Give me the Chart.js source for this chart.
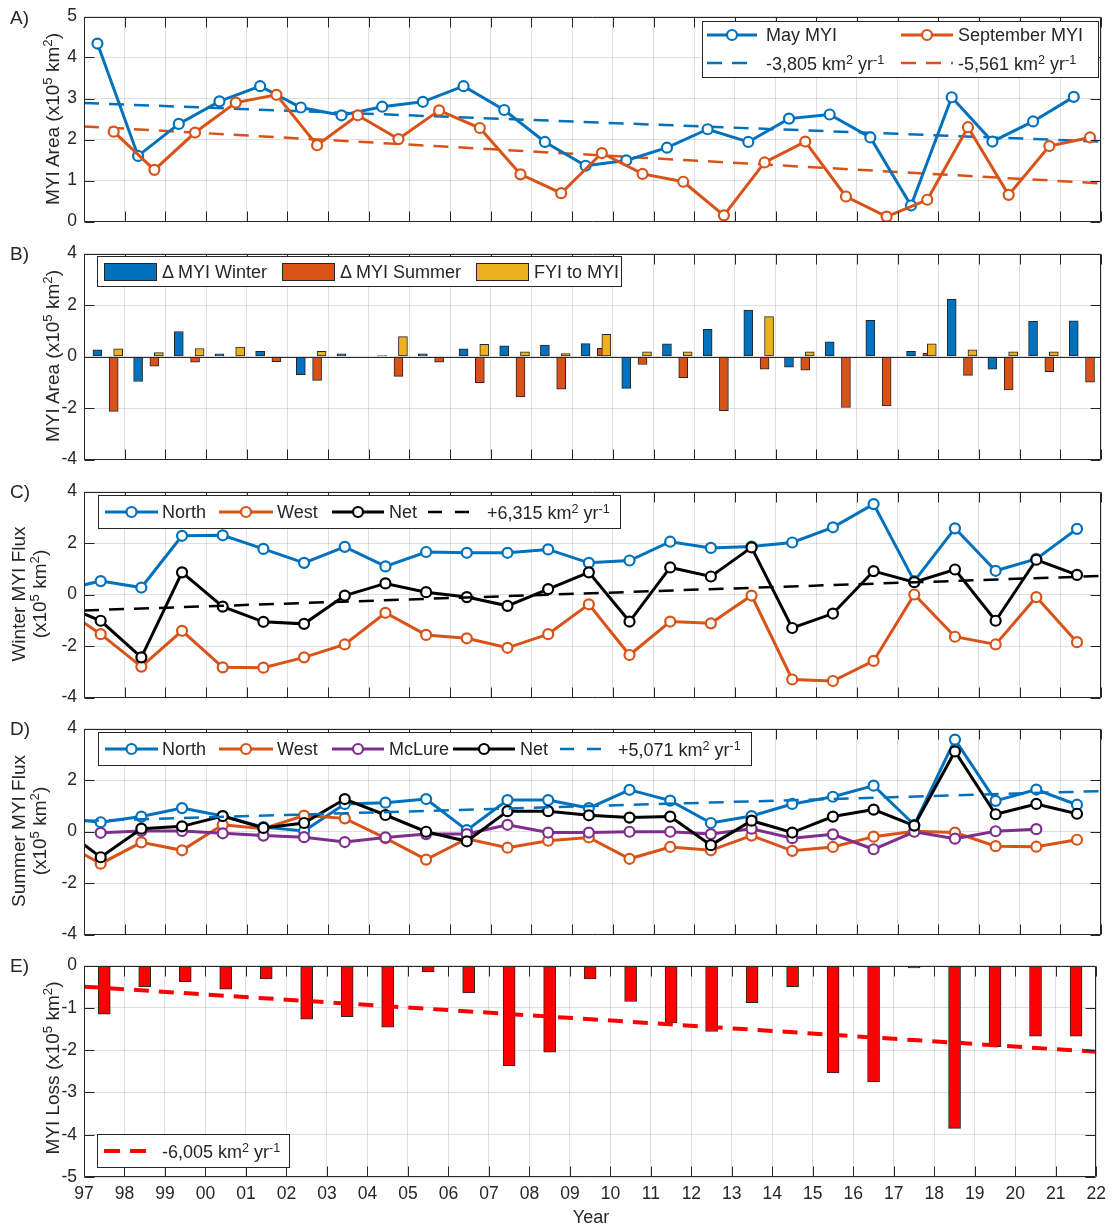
<!DOCTYPE html>
<html>
<head>
<meta charset="utf-8">
<title>MYI area, flux and loss</title>
<script src="https://cdn.jsdelivr.net/npm/chart.js@4.4.1/dist/chart.umd.min.js"></script>
<style>
  html, body { margin:0; padding:0; background:#ffffff; }
  #wrap { position:relative; width:1113px; height:1228px; overflow:hidden; font-family:"Liberation Sans", Arial, Helvetica, sans-serif; color:#262626; }
  #wrap canvas { position:absolute; left:0; }
  .t { position:absolute; white-space:nowrap; line-height:1; transform:translateY(-50%); z-index:5; font-size:18px; }
  .lg { position:absolute; background:#fff; border:1px solid #262626; box-sizing:border-box; z-index:3; }
  .yt { position:absolute; white-space:nowrap; font-size:19px; line-height:21px; text-align:center; transform:translate(-50%,-50%) rotate(-90deg); z-index:5; }
  .pl { position:absolute; white-space:nowrap; font-size:19px; line-height:1; transform:translateY(-50%); z-index:5; }
  .xl { position:absolute; white-space:nowrap; font-size:18px; line-height:1; transform:translate(-50%,-50%); z-index:5; }
  sup { font-size:70%; line-height:0; position:relative; top:-0.5em; vertical-align:baseline; }
  #keys { position:absolute; left:0; top:0; z-index:4; pointer-events:none; }
</style>
</head>
<body>
<div id="wrap">
  <!-- panel labels -->
  <div class="pl" style="left:10px;top:17px;">A)</div>
  <div class="pl" style="left:10px;top:253px;">B)</div>
  <div class="pl" style="left:10px;top:491px;">C)</div>
  <div class="pl" style="left:10px;top:728px;">D)</div>
  <div class="pl" style="left:10px;top:965px;">E)</div>

  <!-- y axis titles -->
  <div class="yt" style="left:52px;top:119px;">MYI Area (x10<sup>5</sup> km<sup>2</sup>)</div>
  <div class="yt" style="left:52px;top:356px;">MYI Area (x10<sup>5</sup> km<sup>2</sup>)</div>
  <div class="yt" style="left:29px;top:594px;">Winter MYI Flux<br>(x10<sup>5</sup> km<sup>2</sup>)</div>
  <div class="yt" style="left:29px;top:831px;">Summer MYI Flux<br>(x10<sup>5</sup> km<sup>2</sup>)</div>
  <div class="yt" style="left:52px;top:1068px;">MYI Loss (x10<sup>5</sup> km<sup>2</sup>)</div>
  <div class="xl" style="left:591px;top:1217px;">Year</div>

  <!-- legend boxes -->
  <div class="lg" style="left:702px;top:21px;width:397px;height:57px;"></div>
  <div class="lg" style="left:97px;top:256px;width:525px;height:31px;"></div>
  <div class="lg" style="left:98px;top:495px;width:523px;height:34px;"></div>
  <div class="lg" style="left:98px;top:732px;width:654px;height:34px;"></div>
  <div class="lg" style="left:97px;top:1134px;width:193px;height:34px;"></div>

  <!-- legend keys -->
  <svg id="keys" width="1113" height="1228" xmlns="http://www.w3.org/2000/svg">
    <!-- A -->
    <line x1="707" y1="35" x2="757" y2="35" stroke="#0072BD" stroke-width="3"/>
    <circle cx="732" cy="35" r="5" fill="#fff" stroke="#0072BD" stroke-width="2.2"/>
    <line x1="901" y1="35" x2="953" y2="35" stroke="#D95319" stroke-width="3"/>
    <circle cx="927" cy="35" r="5" fill="#fff" stroke="#D95319" stroke-width="2.2"/>
    <line x1="707" y1="63" x2="757" y2="63" stroke="#0072BD" stroke-width="2.5" stroke-dasharray="15 10"/>
    <line x1="901" y1="63" x2="953" y2="63" stroke="#D95319" stroke-width="2.5" stroke-dasharray="15 10"/>
    <!-- B -->
    <rect x="104.5" y="263.5" width="52" height="17" fill="#0072BD" stroke="#262626" stroke-width="1"/>
    <rect x="282.5" y="263.5" width="52" height="17" fill="#D95319" stroke="#262626" stroke-width="1"/>
    <rect x="476.5" y="263.5" width="52" height="17" fill="#EDB120" stroke="#262626" stroke-width="1"/>
    <!-- C -->
    <line x1="105" y1="512" x2="158" y2="512" stroke="#0072BD" stroke-width="3"/>
    <circle cx="131.5" cy="512" r="5" fill="#fff" stroke="#0072BD" stroke-width="2.2"/>
    <line x1="219" y1="512" x2="273" y2="512" stroke="#D95319" stroke-width="3"/>
    <circle cx="246" cy="512" r="5" fill="#fff" stroke="#D95319" stroke-width="2.2"/>
    <line x1="332" y1="512" x2="384" y2="512" stroke="#000" stroke-width="3"/>
    <circle cx="358" cy="512" r="5" fill="#fff" stroke="#000" stroke-width="2.2"/>
    <line x1="428" y1="512" x2="470" y2="512" stroke="#000" stroke-width="2.5" stroke-dasharray="14 13"/>
    <!-- D -->
    <line x1="105" y1="749" x2="158" y2="749" stroke="#0072BD" stroke-width="3"/>
    <circle cx="131.5" cy="749" r="5" fill="#fff" stroke="#0072BD" stroke-width="2.2"/>
    <line x1="219" y1="749" x2="273" y2="749" stroke="#D95319" stroke-width="3"/>
    <circle cx="246" cy="749" r="5" fill="#fff" stroke="#D95319" stroke-width="2.2"/>
    <line x1="332" y1="749" x2="384" y2="749" stroke="#7E2F8E" stroke-width="3"/>
    <circle cx="358" cy="749" r="5" fill="#fff" stroke="#7E2F8E" stroke-width="2.2"/>
    <line x1="453" y1="749" x2="515" y2="749" stroke="#000" stroke-width="3"/>
    <circle cx="484" cy="749" r="5" fill="#fff" stroke="#000" stroke-width="2.2"/>
    <line x1="560" y1="749" x2="603" y2="749" stroke="#0072BD" stroke-width="2.5" stroke-dasharray="14 13"/>
    <!-- E -->
    <line x1="104" y1="1151" x2="146" y2="1151" stroke="#FF0000" stroke-width="4" stroke-dasharray="16 10"/>
  </svg>

  <!-- legend texts -->
  <div class="t" style="left:766px;top:35px;">May MYI</div>
  <div class="t" style="left:958px;top:35px;">September MYI</div>
  <div class="t" style="left:766px;top:64px;">-3,805 km<sup>2</sup> yr<sup>-1</sup></div>
  <div class="t" style="left:958px;top:64px;">-5,561 km<sup>2</sup> yr<sup>-1</sup></div>

  <div class="t" style="left:162px;top:272px;">&Delta; MYI Winter</div>
  <div class="t" style="left:340px;top:272px;">&Delta; MYI Summer</div>
  <div class="t" style="left:534px;top:272px;">FYI to MYI</div>

  <div class="t" style="left:162px;top:512px;">North</div>
  <div class="t" style="left:277px;top:512px;">West</div>
  <div class="t" style="left:389px;top:512px;">Net</div>
  <div class="t" style="left:487px;top:513px;">+6,315 km<sup>2</sup> yr<sup>-1</sup></div>

  <div class="t" style="left:162px;top:749px;">North</div>
  <div class="t" style="left:277px;top:749px;">West</div>
  <div class="t" style="left:389px;top:749px;">McLure</div>
  <div class="t" style="left:520px;top:749px;">Net</div>
  <div class="t" style="left:618px;top:750px;">+5,071 km<sup>2</sup> yr<sup>-1</sup></div>

  <div class="t" style="left:162px;top:1152px;">-6,005 km<sup>2</sup> yr<sup>-1</sup></div>
</div>

<script>
// ---------------- DATA ----------------
const years = [1997,1998,1999,2000,2001,2002,2003,2004,2005,2006,2007,2008,2009,2010,2011,2012,2013,2014,2015,2016,2017,2018,2019,2020,2021];
const yearLabels = ['97','98','99','00','01','02','03','04','05','06','07','08','09','10','11','12','13','14','15','16','17','18','19','20','21','22'];

// Panel A: MYI area (x10^5 km^2)
const mayMYI = [4.34,1.60,2.38,2.93,3.30,2.78,2.59,2.80,2.92,3.30,2.72,1.94,1.36,1.49,1.80,2.25,1.94,2.51,2.61,2.05,0.39,3.03,1.95,2.44,3.04];
const sepMYI = [2.19,1.26,2.17,2.90,3.09,1.86,2.59,2.01,2.71,2.28,1.15,0.69,1.67,1.16,0.97,0.15,1.44,1.95,0.61,0.12,0.53,2.30,0.65,1.84,2.05];
const trendYears = [1997, 2022];
const mayTrend = [2.89, 1.95];
const sepTrend = [2.32, 0.93];

// Panel B: area changes
const winterDelta = [0.26,-0.97,0.97,0.10,0.20,-0.71,0.10,0.04,0.10,0.30,0.41,0.44,0.50,-1.24,0.49,1.06,1.80,-0.41,0.57,1.40,0.20,2.23,-0.49,1.37,1.39];
const summerDelta = [-2.13,-0.38,-0.22,-0.04,-0.20,-0.93,0,-0.77,-0.22,-1.02,-1.57,-1.27,0.32,-0.31,-0.82,-2.10,-0.49,-0.53,-1.98,-1.92,0.12,-0.73,-1.30,-0.59,-1.00];
const fyiToMyi = [0.30,0.15,0.31,0.37,0,0.20,0,0.77,0,0.47,0.18,0.11,0.86,0.18,0.18,0,1.55,0.18,0,0,0.49,0.26,0.18,0.18,0];

// Panels C & D: flux (first entry is the 1996 value, only its segment is visible)
const fluxYears = [1996,1997,1998,1999,2000,2001,2002,2003,2004,2005,2006,2007,2008,2009,2010,2011,2012,2013,2014,2015,2016,2017,2018,2019,2020,2021];
const winterNorth = [0.16,0.52,0.27,2.28,2.30,1.77,1.23,1.85,1.09,1.65,1.62,1.62,1.75,1.23,1.32,2.05,1.81,1.86,2.02,2.61,3.51,0.52,2.57,0.92,1.38,2.55];
const winterWest  = [-0.46,-1.54,-2.80,-1.41,-2.83,-2.84,-2.44,-1.94,-0.71,-1.57,-1.70,-2.07,-1.54,-0.38,-2.35,-1.05,-1.12,-0.04,-3.30,-3.36,-2.58,0.00,-1.64,-1.94,-0.10,-1.85];
const winterNet   = [-0.36,-1.02,-2.44,0.86,-0.47,-1.06,-1.14,-0.04,0.43,0.09,-0.10,-0.44,0.21,0.86,-1.05,1.05,0.70,1.83,-1.30,-0.74,0.91,0.48,0.97,-1.02,1.35,0.76];
const winterTrend = [-0.62, 0.72];

const summerNorth = [0.53,0.36,0.58,0.91,0.60,0.17,0.02,1.07,1.12,1.26,0.05,1.22,1.22,0.91,1.62,1.20,0.33,0.60,1.07,1.35,1.78,0.26,3.57,1.19,1.63,1.04];
const summerWest  = [-0.37,-1.25,-0.42,-0.73,0.26,0.11,0.62,0.51,-0.26,-1.09,-0.28,-0.63,-0.36,-0.23,-1.06,-0.60,-0.73,-0.16,-0.75,-0.60,-0.20,0.01,-0.04,-0.57,-0.59,-0.32];
const mclureYears = [1997,1998,1999,2000,2001,2002,2003,2004,2005,2006,2007,2008,2009,2010,2011,2012,2013,2014,2015,2016,2017,2018,2019,2020];
const summerMcLure = [-0.05,0.02,0.02,-0.07,-0.16,-0.22,-0.41,-0.23,-0.10,-0.10,0.26,-0.04,-0.04,-0.01,-0.01,-0.10,0.11,-0.26,-0.11,-0.69,-0.01,-0.28,0.01,0.09];
const summerNet   = [0.19,-1.00,0.11,0.20,0.60,0.14,0.33,1.26,0.64,-0.01,-0.38,0.79,0.79,0.63,0.54,0.58,-0.53,0.42,-0.04,0.58,0.85,0.23,3.11,0.67,1.07,0.69];
const summerTrend = [0.41, 1.57];

// Panel E: MYI loss
const myiLoss = [-1.15,-0.50,-0.38,-0.56,-0.32,-1.27,-1.21,-1.46,-0.15,-0.65,-2.37,-2.05,-0.32,-0.85,-1.36,-1.56,-0.88,-0.50,-2.54,-2.75,-0.06,-3.85,-1.92,-1.67,-1.67];
const lossTrend = [-0.50, -2.04];

// ------------- timing of each record within the year -------------
const OFF_MAY = 0.33, OFF_SEP = 0.73, OFF_FYI = 0.84, OFF_FLUX = 0.41, OFF_LOSS = 0.5;

// ---------------- STYLE ----------------
const FONT = '"Liberation Sans", Arial, Helvetica, sans-serif';
const TXT = '#262626';
const GRID = 'rgba(38,38,38,0.14)';
const BLUE = '#0072BD', ORANGE = '#D95319', YELLOW = '#EDB120', PURPLE = '#7E2F8E', BLACK = '#000000', RED = '#FF0000';

const pts = (xs, ys, off) => ys.map((v, i) => ({ x: xs[i] + off, y: v }));

const boxPlugin = {
  id: 'mbox',
  afterDatasetsDraw(chart, args, opts) {
    const { ctx, chartArea: a, scales: { x, y } } = chart;
    ctx.save();
    ctx.strokeStyle = TXT;
    ctx.lineWidth = 1;
    const L = Math.round(a.left) + 0.5, R = Math.round(a.right) - 0.5;
    const T = Math.round(a.top) + 0.5, B = Math.round(a.bottom) - 0.5;
    ctx.beginPath();
    if (opts.baseline) {
      const yy = Math.round(y.getPixelForValue(0)) + 0.5;
      ctx.moveTo(L, yy); ctx.lineTo(R, yy);
    }
    const tl = 10;
    x.ticks.forEach(t => {
      const px = Math.round(x.getPixelForValue(t.value)) + 0.5;
      ctx.moveTo(px, T); ctx.lineTo(px, T + tl);
      ctx.moveTo(px, B); ctx.lineTo(px, B - tl);
    });
    y.ticks.forEach(t => {
      const py = Math.round(y.getPixelForValue(t.value)) + 0.5;
      ctx.moveTo(L, py); ctx.lineTo(L + tl, py);
      ctx.moveTo(R, py); ctx.lineTo(R - tl, py);
    });
    ctx.rect(L, T, R - L, B - T);
    ctx.stroke();
    ctx.restore();
  }
};
Chart.register(boxPlugin);

const PAD = 12;
function makePanel(type, top, bottom, xh, yMin, yMax, yStep, datasets, showX, baseline) {
  const wrap = document.getElementById('wrap');
  const cv = document.createElement('canvas');
  const h = PAD + (bottom - top) + xh;
  cv.width = 1113; cv.height = h;
  cv.style.width = '1113px'; cv.style.height = h + 'px';
  cv.style.top = (top - PAD) + 'px';
  wrap.insertBefore(cv, wrap.firstChild);
  return new Chart(cv.getContext('2d'), {
    type: type,
    data: { datasets: datasets },
    options: {
      responsive: false,
      animation: false,
      devicePixelRatio: 1,
      events: [],
      layout: { padding: { left: 0, right: 12, top: PAD, bottom: 0 }, autoPadding: false },
      plugins: { legend: { display: false }, tooltip: { enabled: false }, mbox: { baseline: baseline } },
      scales: {
        x: {
          type: 'linear', min: 1997, max: 2022, offset: false,
          grid: { color: GRID, drawTicks: false, offset: false },
          border: { display: false },
          ticks: {
            display: showX, stepSize: 1, autoSkip: false, maxRotation: 0, minRotation: 0,
            color: TXT, font: { family: FONT, size: 17.5 }, padding: 7,
            callback: (v) => yearLabels[Math.round(v) - 1997]
          },
          afterFit: (s) => { s.height = xh; }
        },
        y: {
          type: 'linear', min: yMin, max: yMax,
          grid: { color: GRID, drawTicks: false },
          border: { display: false },
          ticks: { stepSize: yStep, color: TXT, font: { family: FONT, size: 17.5 }, padding: 7 },
          afterFit: (s) => { s.width = 84; }
        }
      }
    }
  });
}

const lineDs = (data, color, order) => ({
  type: 'line', data: data, borderColor: color, borderWidth: 3,
  pointRadius: 5, pointBorderWidth: 2.2, pointBackgroundColor: '#ffffff', pointBorderColor: color,
  tension: 0, fill: false, order: order
});
const trendDs = (ys, color, width, dash, order) => ({
  type: 'line', data: pts(trendYears, ys, 0), borderColor: color, borderWidth: width,
  borderDash: dash, pointRadius: 0, tension: 0, fill: false, order: order
});
const barDs = (data, color, thick, order) => ({
  type: 'bar', data: data, backgroundColor: color, borderColor: '#262626', borderWidth: 1,
  borderSkipped: false, barThickness: thick, grouped: false, order: order
});

// Panel A
makePanel('line', 11, 227, PAD, 0, 5, 1, [
  lineDs(pts(years, sepMYI, OFF_SEP), ORANGE, 1),
  lineDs(pts(years, mayMYI, OFF_MAY), BLUE, 2),
  trendDs(mayTrend, BLUE, 2.5, [15, 10], 3),
  trendDs(sepTrend, ORANGE, 2.5, [15, 10], 4)
], false, false);

// Panel B
makePanel('bar', 248, 465, PAD, -4, 4, 2, [
  barDs(pts(years, fyiToMyi, OFF_FYI), YELLOW, 9, 0),
  barDs(pts(years, summerDelta, OFF_SEP), ORANGE, 9, 1),
  barDs(pts(years, winterDelta, OFF_MAY), BLUE, 9, 2)
], false, true);

// Panel C
makePanel('line', 486, 703, PAD, -4, 4, 2, [
  lineDs(pts(fluxYears, winterNet, OFF_FLUX), BLACK, 1),
  lineDs(pts(fluxYears, winterWest, OFF_FLUX), ORANGE, 2),
  lineDs(pts(fluxYears, winterNorth, OFF_FLUX), BLUE, 3),
  trendDs(winterTrend, BLACK, 2.5, [15, 10], 0)
], false, false);

// Panel D
makePanel('line', 723, 940, PAD, -4, 4, 2, [
  lineDs(pts(fluxYears, summerNet, OFF_FLUX), BLACK, 1),
  lineDs(pts(mclureYears, summerMcLure, OFF_FLUX), PURPLE, 2),
  lineDs(pts(fluxYears, summerWest, OFF_FLUX), ORANGE, 3),
  lineDs(pts(fluxYears, summerNorth, OFF_FLUX), BLUE, 4),
  trendDs(summerTrend, BLUE, 2.5, [15, 10], 0)
], false, false);

// Panel E
makePanel('bar', 960, 1177, 34, -5, 0, 1, [
  trendDs(lossTrend, RED, 4, [15, 10], 0),
  barDs(pts(years, myiLoss, OFF_LOSS), RED, 12, 1)
], true, false);
</script>
</body>
</html>
